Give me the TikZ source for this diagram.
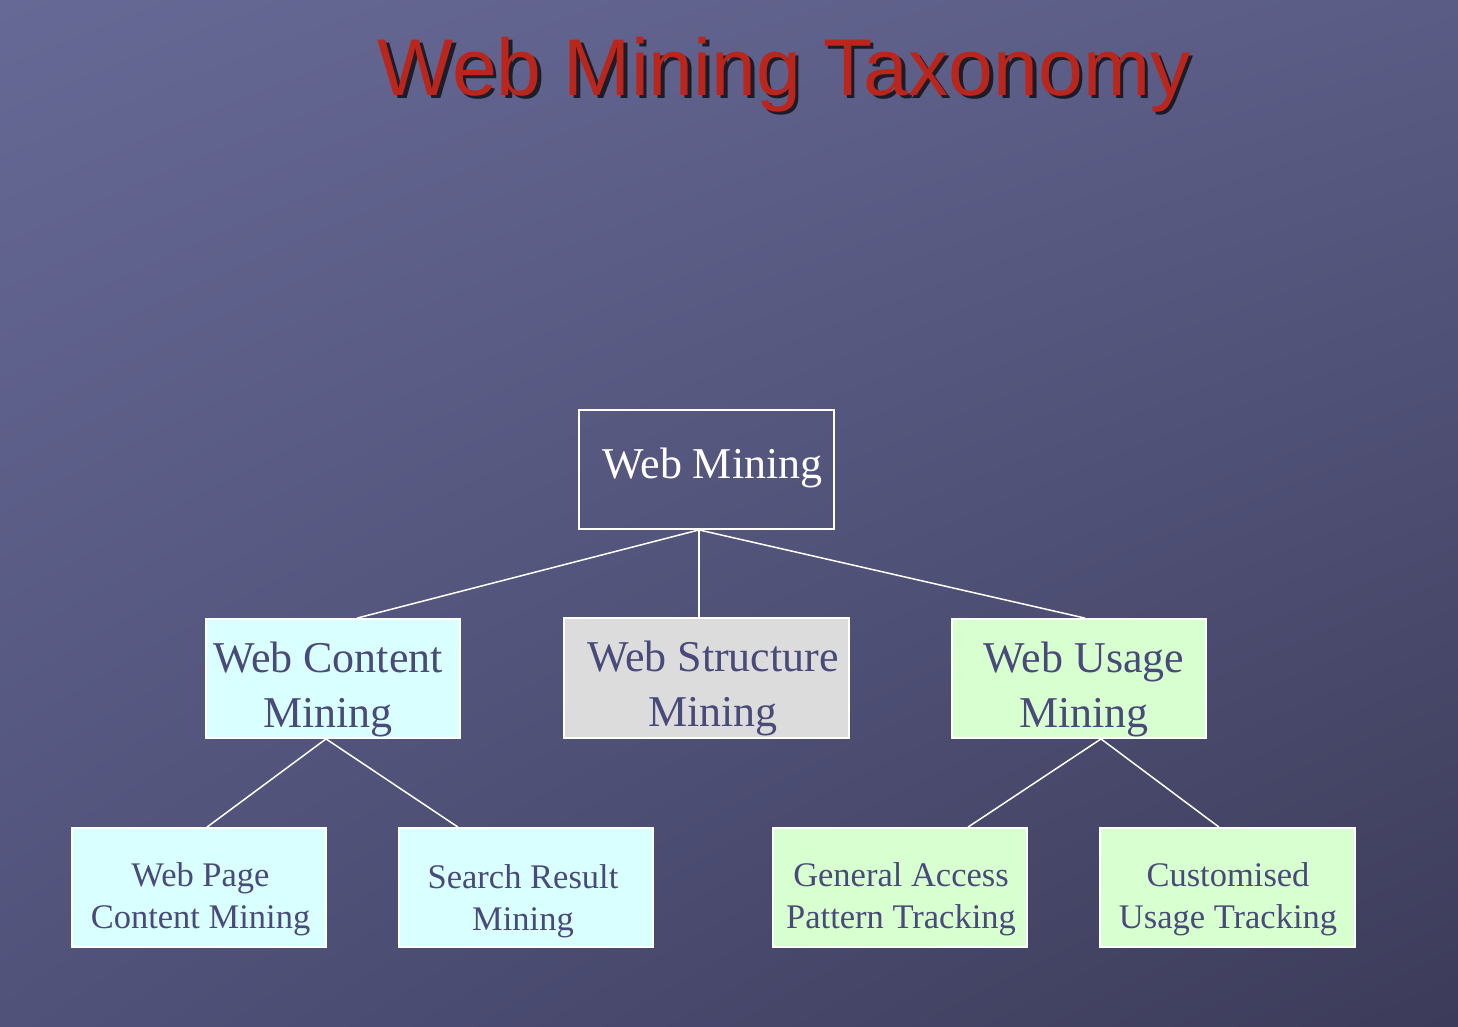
\documentclass[tikz,border=0pt]{standalone}
\usepackage{fontspec}
\usetikzlibrary{shadings}
\setmainfont{Liberation Serif}
\newfontfamily\titlefont{Liberation Sans}
\definecolor{bgTL}{RGB}{102,105,149}
\definecolor{bgTR}{RGB}{90,92,133}
\definecolor{bgBL}{RGB}{80,82,122}
\definecolor{bgBR}{RGB}{60,59,89}
\definecolor{titlered}{RGB}{186,38,28}
\definecolor{boxtext}{RGB}{74,74,122}
\definecolor{cyanbox}{RGB}{217,255,255}
\definecolor{greybox}{RGB}{220,220,220}
\definecolor{greenbox}{RGB}{216,255,208}
\tikzset{
  boxnode/.style={draw=white, line width=1.8pt, rectangle, inner sep=0pt,
    minimum width=254pt, minimum height=119pt},
  bigtext/.style={text=boxtext, align=center, inner sep=0pt,
    font=\fontsize{44}{55}\selectfont},
  smalltext/.style={text=boxtext, align=center, inner sep=0pt,
    font=\fontsize{34.5}{42}\selectfont},
  link/.style={draw=white, line width=1.5pt},
  titletext/.style={anchor=base, inner sep=0pt,
    font=\titlefont\fontsize{80.5}{92}\selectfont}
}
\begin{document}
\begin{tikzpicture}[x=1pt,y=-1pt]
\useasboundingbox (0,0) rectangle (1458,1026);
\shade[upper left=bgTL, upper right=bgTR, lower left=bgBL, lower right=bgBR]
  (0,0) rectangle (1458,1026);
% title
\node[titletext, text=black, opacity=0.7] (titleshadow) at (787.5,98.5) {Web Mining Taxonomy};
\node[titletext, text=titlered] (title) at (784,95) {Web Mining Taxonomy};
% boxes
\node[boxnode, minimum width=255pt] (wm) at (706.5,469.5) {};
\node[boxnode, fill=cyanbox] (wc) at (333,678.5) {};
\node[boxnode, fill=greybox, minimum width=285pt, minimum height=120pt] (ws) at (706.5,678) {};
\node[boxnode, fill=greenbox] (wu) at (1079,678.5) {};
\node[boxnode, fill=cyanbox] (wp) at (199,887.5) {};
\node[boxnode, fill=cyanbox] (sr) at (526,887.5) {};
\node[boxnode, fill=greenbox] (ga) at (900,887.5) {};
\node[boxnode, fill=greenbox, minimum width=255pt] (cu) at (1227.5,887.5) {};
% texts
\node[bigtext, text=white] (wmT) at (712.5,468) {Web Mining};
\node[bigtext] (wcT) at (328,689) {Web Content\\Mining};
\node[bigtext] (wsT) at (713,688) {Web Structure\\Mining};
\node[bigtext] (wuT) at (1084,689) {Web Usage\\Mining};
\node[smalltext] (wpT) at (200.5,899.5) {Web Page\\Content Mining};
\node[smalltext] (srT) at (523,901) {Search Result\\Mining};
\node[smalltext] (gaT) at (901,899) {General Access\\Pattern Tracking};
\node[smalltext] (cuT) at (1228,899) {Customised\\Usage Tracking};
% connectors
\draw[link] ([xshift=-7.5pt]wm.south) -- ([xshift=24pt]wc.north);
\draw[link] ([xshift=-7.5pt]wm.south) -- ([xshift=-7.5pt]ws.north);
\draw[link] ([xshift=-7.5pt]wm.south) -- ([xshift=6pt]wu.north);
\draw[link] ([xshift=-7pt]wc.south) -- ([xshift=8pt]wp.north);
\draw[link] ([xshift=-7pt]wc.south) -- ([xshift=-68pt]sr.north);
\draw[link] ([xshift=22pt]wu.south) -- ([xshift=68pt]ga.north);
\draw[link] ([xshift=22pt]wu.south) -- ([xshift=-8.5pt]cu.north);
\end{tikzpicture}
\end{document}
